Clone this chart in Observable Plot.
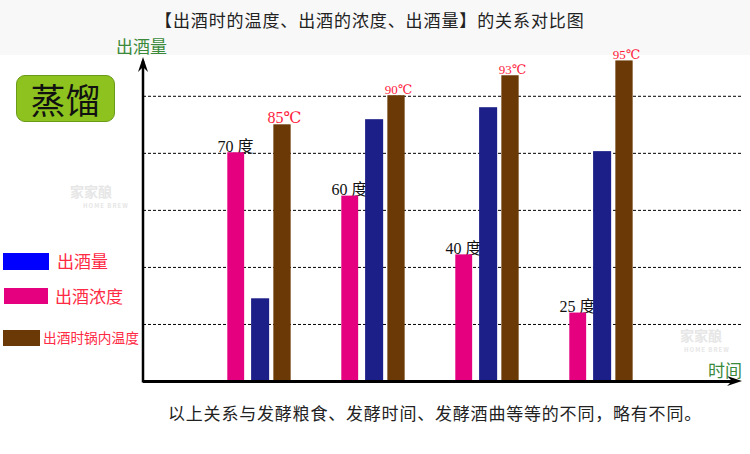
<!DOCTYPE html>
<html><head><meta charset="utf-8">
<script src="https://cdn.jsdelivr.net/npm/d3@7"></script>
<script src="https://cdn.jsdelivr.net/npm/@observablehq/plot@0.6"></script>
<style>
body{margin:0;background:#fff;}
#wrap{position:relative;width:750px;height:454px;overflow:hidden;font-family:"Noto Sans CJK SC",sans-serif;background:#fff;}
#band{position:absolute;left:0;top:0;width:750px;height:55px;background:#f8f8f8;}
#chart{position:absolute;left:0;top:0;}
.abs{position:absolute;white-space:nowrap;line-height:1;}
</style></head>
<body>
<div id="wrap"><div id="band"></div><div id="chart"></div></div>
<script>
// ---- data ----
const stages = ["第一段", "第二段", "第三段", "第四段"];
const seriesNames = ["出酒量", "出酒浓度", "出酒时锅内温度"];
const abvHeight = [4.01, 3.25, 2.22, 1.20];     // 出酒浓度 bar height (grid units)
const abvLabels = ["70 度", "60 度", "40 度", "25 度"];
const yieldHeight = [1.45, 4.59, 4.80, 4.03];   // 出酒量 bar height (grid units)
const tempHeight = [4.50, 5.01, 5.36, 5.62];    // 出酒时锅内温度 bar height (grid units)
const tempLabels = ["85℃", "90℃", "93℃", "95℃"];
const gridLevels = [1, 2, 3, 4, 5];
const yTop = 5.68;
const titleText = "【出酒时的温度、出酒的浓度、出酒量】的关系对比图";
const footText = "以上关系与发酵粮食、发酵时间、发酵酒曲等等的不同，略有不同。";

const rows = stages.map((s, i) => ({
  stage: s, abv: abvHeight[i], abvLabel: abvLabels[i],
  yld: yieldHeight[i], temp: tempHeight[i], tempLabel: tempLabels[i]
}));

const colors = {"出酒量": "#1d1f88", "出酒浓度": "#e4007f", "出酒时锅内温度": "#6a3906"};
const legendSwatch = {"出酒量": "#0000ff", "出酒浓度": "#e4007f", "出酒时锅内温度": "#6a3906"};
const serif = "'Liberation Serif','DejaVu Serif','Noto Sans CJK SC',serif";

const chart = Plot.plot({
  width: 750, height: 454,
  marginLeft: 143, marginRight: 8, marginTop: 57, marginBottom: 73,
  style: {background: "transparent", overflow: "visible"},
  x: {domain: stages, range: [200.7, 658.5], padding: 0, axis: null},
  y: {domain: [0, yTop], axis: null},
  marks: [
    Plot.ruleY(gridLevels, {stroke: "#000", strokeWidth: 1, strokeDasharray: "3,2"}),
    Plot.text(rows, {x: "stage", y: "abv", text: "abvLabel", dx: -24, dy: -1, lineAnchor: "bottom",
      fontSize: 16, fontFamily: serif, fill: "#111"}),
    Plot.barY(rows, {x: "stage", y: "abv", fill: colors["出酒浓度"], insetLeft: 25.3, insetRight: 71.85}),
    Plot.barY(rows, {x: "stage", y: "yld", fill: colors["出酒量"], insetLeft: 49.1, insetRight: 46.85}),
    Plot.barY(rows, {x: "stage", y: "temp", fill: colors["出酒时锅内温度"], insetLeft: 71.35, insetRight: 25.35}),
    Plot.text(rows, {x: "stage", y: "temp", text: "tempLabel", dx: 25, dy: -2, lineAnchor: "bottom",
      fontSize: d => d.stage === stages[0] ? 16 : 13, fontFamily: serif, fill: "#ff1a3c"}),
    Plot.ruleY([0], {stroke: "#000", strokeWidth: 3, insetRight: 8})
  ]
});
document.getElementById("chart").appendChild(chart);

// axis line + arrowheads derived from the scales
const ys = chart.scale("y");
const x0 = 143, yBase = ys.apply(0), yTopPx = ys.apply(yTop), xEnd = 742;
const svg = d3.select(chart);
svg.append("line").attr("x1", x0).attr("x2", x0).attr("y1", yBase + 1.5).attr("y2", yTopPx + 4)
  .attr("stroke", "#000").attr("stroke-width", 2.5);
svg.append("path")
  .attr("d", `M${x0},${yTopPx} L${x0 - 5},${yTopPx + 15} L${x0},${yTopPx + 10} L${x0 + 5},${yTopPx + 15} Z`)
  .attr("fill", "#000");
svg.append("path")
  .attr("d", `M${xEnd},${yBase} L${xEnd - 15},${yBase - 5} L${xEnd - 10},${yBase} L${xEnd - 15},${yBase + 5} Z`)
  .attr("fill", "#000");

// ---- text / legend overlays ----
const wrap = document.getElementById("wrap");
function addText(txt, css) {
  const d = document.createElement("div");
  d.className = "abs"; d.textContent = txt;
  Object.assign(d.style, css);
  wrap.appendChild(d);
  return d;
}
addText(titleText, {left: "155px", top: "11px", fontSize: "17px", letterSpacing: "0.9px", color: "#222"});
addText("出酒量", {left: "116px", top: "37px", fontSize: "17px", color: "#3b8a3b"});
addText("时间", {left: "708px", top: "361px", fontSize: "17px", color: "#3b8a3b"});
addText(footText, {left: "168px", top: "404px", fontSize: "17px", letterSpacing: "0.8px", color: "#222"});

// watermarks
addText("家家酿", {left: "70px", top: "184px", fontSize: "14px", fontWeight: "bold", color: "#e6e6e6"});
addText("HOME BREW", {left: "83px", top: "203px", fontSize: "6px", fontWeight: "bold", color: "#e6e6e6", letterSpacing: "1px"});
addText("家家酿", {left: "680px", top: "328px", fontSize: "14px", fontWeight: "bold", color: "#e6e6e6"});
addText("HOME BREW", {left: "684px", top: "347px", fontSize: "6px", fontWeight: "bold", color: "#e6e6e6", letterSpacing: "1px"});

// badge
addText("蒸馏", {left: "16px", top: "75px", width: "97px", height: "45px", lineHeight: "45px",
  textAlign: "center", fontSize: "35px", color: "#111", background: "#8ec31f",
  border: "1px solid #6a9a18", borderRadius: "9px"});

// legend
const legendPos = {
  "出酒量": {sx: 3, sy: 253, sw: 46, sh: 17, tx: 57, ty: 252, fs: 17},
  "出酒浓度": {sx: 4, sy: 288, sw: 44, sh: 16, tx: 55, ty: 287, fs: 17},
  "出酒时锅内温度": {sx: 3, sy: 330, sw: 37, sh: 16, tx: 43, ty: 331, fs: 13.7}
};
seriesNames.forEach(n => {
  const p = legendPos[n];
  const sw = document.createElement("div");
  Object.assign(sw.style, {position: "absolute", left: p.sx + "px", top: p.sy + "px", width: p.sw + "px",
    height: p.sh + "px", background: legendSwatch[n]});
  wrap.appendChild(sw);
  addText(n, {left: p.tx + "px", top: p.ty + "px", fontSize: p.fs + "px", color: "#ff2a44"});
});
</script>
</body></html>
